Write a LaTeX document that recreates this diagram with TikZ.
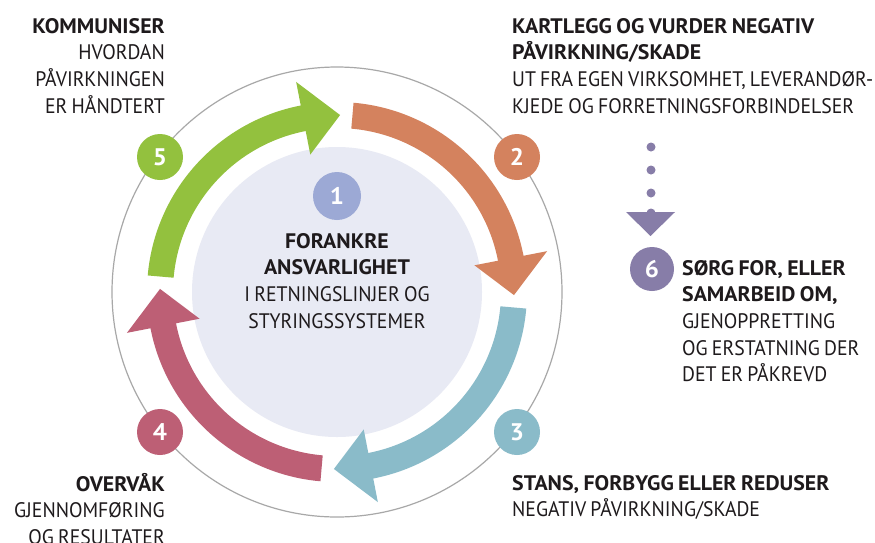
\documentclass[tikz,border=0pt]{standalone}
\usepackage{fontspec}
\setmainfont{PT Sans}[FakeStretch=0.94, WordSpace=0.8, BoldFeatures={FakeStretch=1.04}]
\definecolor{cgreen}{HTML}{93C13E}
\definecolor{corange}{HTML}{D4825E}
\definecolor{cblue}{HTML}{8ABBC9}
\definecolor{cred}{HTML}{BD5F75}
\definecolor{clav}{HTML}{9CA9D5}
\definecolor{cpurple}{HTML}{877DA8}
\definecolor{cinner}{HTML}{E8EAF4}
\definecolor{cring}{HTML}{A8A8A8}
\definecolor{ctext}{HTML}{1E1A1C}
\newcommand\cyclearrow[2]{%
  \pgfmathsetmacro\bk{#2-74}%
  \pgfmathsetmacro\tp{#2-86}%
  \fill[#1] (#2:190pt) arc[start angle=#2, end angle=\bk, radius=190pt]
    -- (\bk:214pt) -- (\tp:177pt) -- (\bk:140pt) -- (\bk:164pt)
    arc[start angle=\bk, end angle=#2, radius=164pt] -- cycle;}
\tikzset{
  num/.style={circle, fill=#1, minimum size=46pt, inner sep=0pt, text=white,
    font=\fontsize{24}{26}\selectfont\bfseries},
  lbl/.style={inner sep=0pt, text=ctext, font=\fontsize{21}{26.7}\selectfont},
}
\begin{document}
\begin{tikzpicture}[x=1pt,y=1pt]
\useasboundingbox (0,0) rectangle (875,-542);
\fill[white] (0,0) rectangle (875,-542);
\coordinate (C) at (337,-292);
\draw[cring, line width=1.2pt] (C) circle[radius=225pt];
\fill[cinner] (C) circle[radius=145pt];
\begin{scope}[shift={(C)}]
  \cyclearrow{cgreen}{175}
  \cyclearrow{corange}{85}
  \cyclearrow{cblue}{-5}
  \cyclearrow{cred}{-95}
\end{scope}
\node[num=cgreen] (n5) at (160,-157) {5};
\node[num=corange] (n2) at (517,-157) {2};
\node[num=cblue] (n3) at (517,-432) {3};
\node[num=cred] (n4) at (160,-432) {4};
\node[num=clav, minimum size=48pt] (n1) at (337,-196) {1};
% center text
\node[lbl, anchor=base] (t1) at (337,-248) {\begin{tabular}[t]{@{}c@{}}\textbf{FORANKRE}\\ \textbf{ANSVARLIGHET}\\ I RETNINGSLINJER OG\\ STYRINGSSYSTEMER\end{tabular}};
% top left
\node[lbl, anchor=base east] (t5) at (165,-33) {\begin{tabular}[t]{@{}r@{}}\textbf{KOMMUNISER}\\ HVORDAN\\ PÅVIRKNINGEN\\ ER HÅNDTERT\end{tabular}};
% top right
\node[lbl, anchor=base west] (t2) at (512,-33) {\begin{tabular}[t]{@{}l@{}}\textbf{KARTLEGG OG VURDER NEGATIV}\\ \textbf{PÅVIRKNING/SKADE}\\ UT FRA EGEN VIRKSOMHET, LEVERANDØR-\\ KJEDE OG FORRETNINGSFORBINDELSER\end{tabular}};
% bottom right
\node[lbl, anchor=base west] (t3) at (512,-490) {\begin{tabular}[t]{@{}l@{}}\textbf{STANS, FORBYGG ELLER REDUSER}\\ NEGATIV PÅVIRKNING/SKADE\end{tabular}};
% bottom left
\node[lbl, anchor=base east] (t4) at (165,-491) {\begin{tabular}[t]{@{}r@{}}\textbf{OVERVÅK}\\ GJENNOMFØRING\\ OG RESULTATER\end{tabular}};
% step 6
\fill[cpurple] (651,-147) circle[radius=4.5pt];
\fill[cpurple] (651,-170) circle[radius=4.5pt];
\fill[cpurple] (651,-193) circle[radius=4.5pt];
\fill[cpurple] (651,-213) circle[radius=4.5pt];
\fill[cpurple] (626,-212) -- (675,-212) -- (650.5,-236) -- cycle;
\node[num=cpurple, minimum size=44pt] (n6) at (652,-269) {6};
\node[lbl, anchor=base west] (t6) at (682,-275) {\begin{tabular}[t]{@{}l@{}}\textbf{SØRG FOR, ELLER}\\ \textbf{SAMARBEID OM,}\\ GJENOPPRETTING\\ OG ERSTATNING DER\\ DET ER PÅKREVD\end{tabular}};
\end{tikzpicture}
\end{document}
